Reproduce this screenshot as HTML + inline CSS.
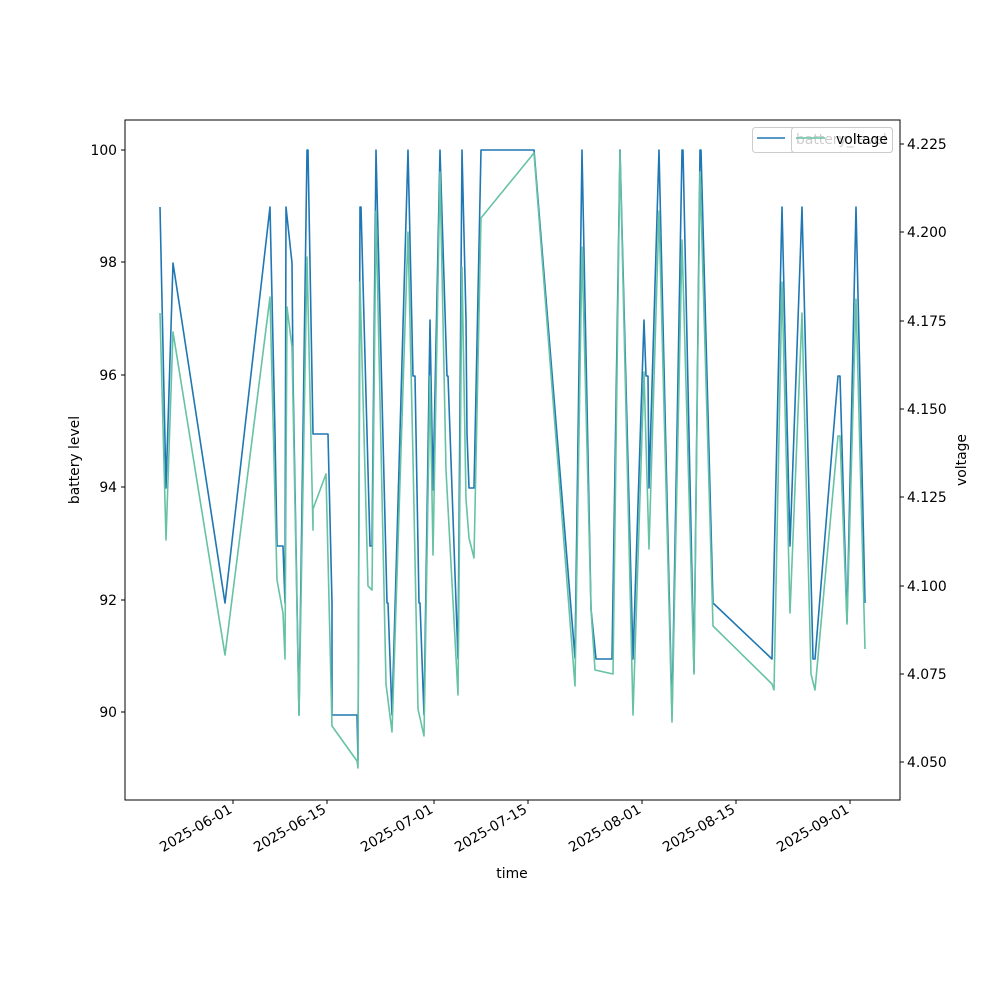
<!DOCTYPE html>
<html><head><meta charset="utf-8"><style>
html,body{margin:0;padding:0;background:#fff}
svg{display:block;font-family:"DejaVu Sans","Liberation Sans",sans-serif}
</style></head><body>
<svg width="1000" height="1000" viewBox="0 0 1000 1000" xmlns="http://www.w3.org/2000/svg">
<rect width="1000" height="1000" fill="#fff"/>
<g fill="none" stroke-width="1.6" stroke-linejoin="round">
<polyline stroke="#1f77b4" points="160,207 166,488 173,263 225,603 270,207 275,434 277,546 283,546 285,603 286,207 292,263 293,376 299,715 307,150 308,150 313,434 328,434 332,603 332,715 357,715 358,760 360,207 361,207 370,546 372,546 376,150 387,603 388,603 392,715 408,150 413,376 415,376 419,603 420,603 424,715 430,320 433,490 440,150 447,376 448,376 458,659 462,150 466,320 467,434 469,488 474,488 481,150 534,150 575,658 582,150 591,609 596,659 612,659 620,150 633,659 644,320 646,376 648,376 649,488 659,150 672,715 682,150 683,150 694,672 700,150 701,150 713,603 772,659 782,207 790,546 802,207 813,659 815,659 838,376 840,376 847,622 856,207 865,603"/>
<polyline stroke="#66c2a5" points="160,313 166,540 173,332 225,655 270,297 277,580 283,613 285,659 287,307 292,347 299,715 307,257 313,530 313,509 326,474 332,726 357,761 358,768 360,282 368,586 372,590 376,211 386,684 392,732 408,232 413,459 418,709 424,736 430,376 433,555 440,172 446,470 458,695 462,267 466,499 469,538 474,558 481,218 534,153 575,686 582,247 591,609 595,670 613,674 620,151 633,715 644,372 649,549 659,211 672,722 682,240 694,674 700,172 713,626 772,684 774,690 782,282 790,613 802,313 811,674 815,690 838,436 840,436 847,624 856,299 865,649"/>
</g>
<rect x="125" y="120" width="775" height="680" fill="none" stroke="#000" stroke-width="1"/>
<g stroke="#000" stroke-width="1">
<line x1="125" y1="150" x2="121" y2="150"/><line x1="125" y1="262" x2="121" y2="262"/><line x1="125" y1="375" x2="121" y2="375"/><line x1="125" y1="487" x2="121" y2="487"/><line x1="125" y1="600" x2="121" y2="600"/><line x1="125" y1="712" x2="121" y2="712"/>
<line x1="900" y1="144" x2="904" y2="144"/><line x1="900" y1="232" x2="904" y2="232"/><line x1="900" y1="321" x2="904" y2="321"/><line x1="900" y1="409" x2="904" y2="409"/><line x1="900" y1="497" x2="904" y2="497"/><line x1="900" y1="586" x2="904" y2="586"/><line x1="900" y1="674" x2="904" y2="674"/><line x1="900" y1="762" x2="904" y2="762"/>
<line x1="233" y1="800" x2="233" y2="804"/><line x1="327" y1="800" x2="327" y2="804"/><line x1="434" y1="800" x2="434" y2="804"/><line x1="528" y1="800" x2="528" y2="804"/><line x1="642" y1="800" x2="642" y2="804"/><line x1="736" y1="800" x2="736" y2="804"/><line x1="850" y1="800" x2="850" y2="804"/>
</g>
<g font-size="13.9" fill="#000">
<g text-anchor="end">
<text x="117" y="155">100</text><text x="117" y="267">98</text><text x="117" y="380">96</text><text x="117" y="492">94</text><text x="117" y="605">92</text><text x="117" y="717">90</text>
</g>
<text x="907" y="149">4.225</text><text x="907" y="237">4.200</text><text x="907" y="326">4.175</text><text x="907" y="414">4.150</text><text x="907" y="502">4.125</text><text x="907" y="591">4.100</text><text x="907" y="679">4.075</text><text x="907" y="767">4.050</text>
<g text-anchor="end">
<text transform="translate(233,812) rotate(-30)">2025-06-01</text>
<text transform="translate(327,812) rotate(-30)">2025-06-15</text>
<text transform="translate(434,812) rotate(-30)">2025-07-01</text>
<text transform="translate(528,812) rotate(-30)">2025-07-15</text>
<text transform="translate(642,812) rotate(-30)">2025-08-01</text>
<text transform="translate(736,812) rotate(-30)">2025-08-15</text>
<text transform="translate(850,812) rotate(-30)">2025-09-01</text>
</g>
<text x="512" y="878" text-anchor="middle">time</text>
<text transform="translate(79,460) rotate(-90)" text-anchor="middle">battery level</text>
<text transform="translate(966,460) rotate(-90)" text-anchor="middle">voltage</text>
</g>
<rect x="752.5" y="127.5" width="140" height="25" rx="3" fill="#fff" fill-opacity="0.8" stroke="#ccc"/>
<line x1="757" y1="138" x2="785" y2="138" stroke="#1f77b4" stroke-width="1.6"/>
<text x="796" y="144" font-size="13.9" fill="#000">battery_level</text>
<rect x="791.5" y="127.5" width="101" height="25" rx="3" fill="#fff" fill-opacity="0.8" stroke="#ccc"/>
<line x1="796" y1="138" x2="825" y2="138" stroke="#66c2a5" stroke-width="1.6"/>
<text x="836" y="144" font-size="13.9" fill="#000">voltage</text>
</svg>
</body></html>
